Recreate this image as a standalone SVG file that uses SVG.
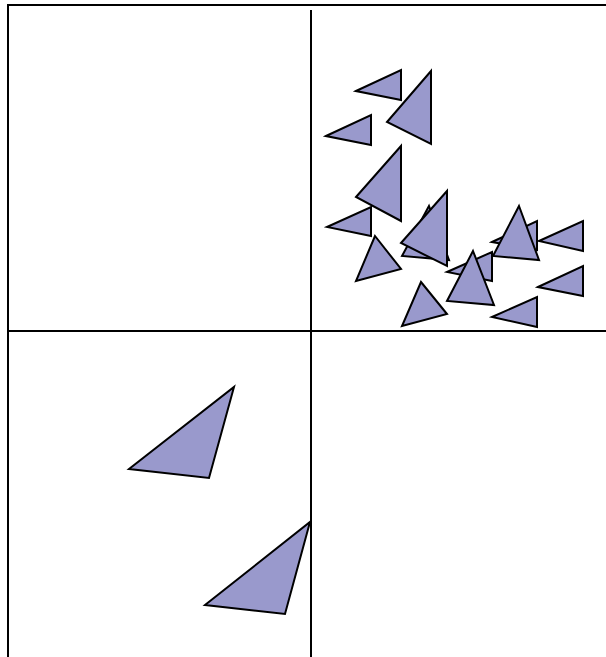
<svg xmlns="http://www.w3.org/2000/svg" width="606" height="657" viewBox="0 0 606 657">
<style>
.ln{stroke:#000;stroke-width:2;fill:none}
.tri{fill:#9999cc;stroke:#000;stroke-width:2;stroke-linejoin:miter}
</style>
<rect width="606" height="657" fill="#fff"/>
<g id="grid">
<line class="ln" x1="7" y1="5" x2="606" y2="5"/>
<line class="ln" x1="8" y1="4" x2="8" y2="657"/>
<line class="ln" x1="311" y1="10" x2="311" y2="657"/>
<line class="ln" x1="8" y1="331" x2="606" y2="331"/>
</g>
<g id="cluster">
<polygon class="tri" points="356,91 401,70 401,100"/>
<polygon class="tri" points="387,122 431,71 431,144"/>
<polygon class="tri" points="326,136 371,115 371,145"/>
<polygon class="tri" points="356,197 401,146 401,221"/>
<polygon class="tri" points="327,227 371,207 371,236"/>
<polygon class="tri" points="375,236 401,269 356,281"/>
<polygon class="tri" points="429,206 449,260 402,256"/>
<polygon class="tri" points="401,243 447,191 447,266"/>
<polygon class="tri" points="421,282 447,314 402,326"/>
<polygon class="tri" points="447,272 492,252 492,281"/>
<polygon class="tri" points="473,251 494,305 447,301"/>
<polygon class="tri" points="492,242 537,221 537,250"/>
<polygon class="tri" points="519,206 539,260 493,256"/>
<polygon class="tri" points="539,241 583,221 583,251"/>
<polygon class="tri" points="538,287 583,266 583,296"/>
<polygon class="tri" points="492,317 537,297 537,327"/>
</g>
<g id="lower">
<polygon class="tri" points="129,469 234,387 209,478"/>
<polygon class="tri" points="205,605 310,522 285,614"/>
</g>
</svg>
